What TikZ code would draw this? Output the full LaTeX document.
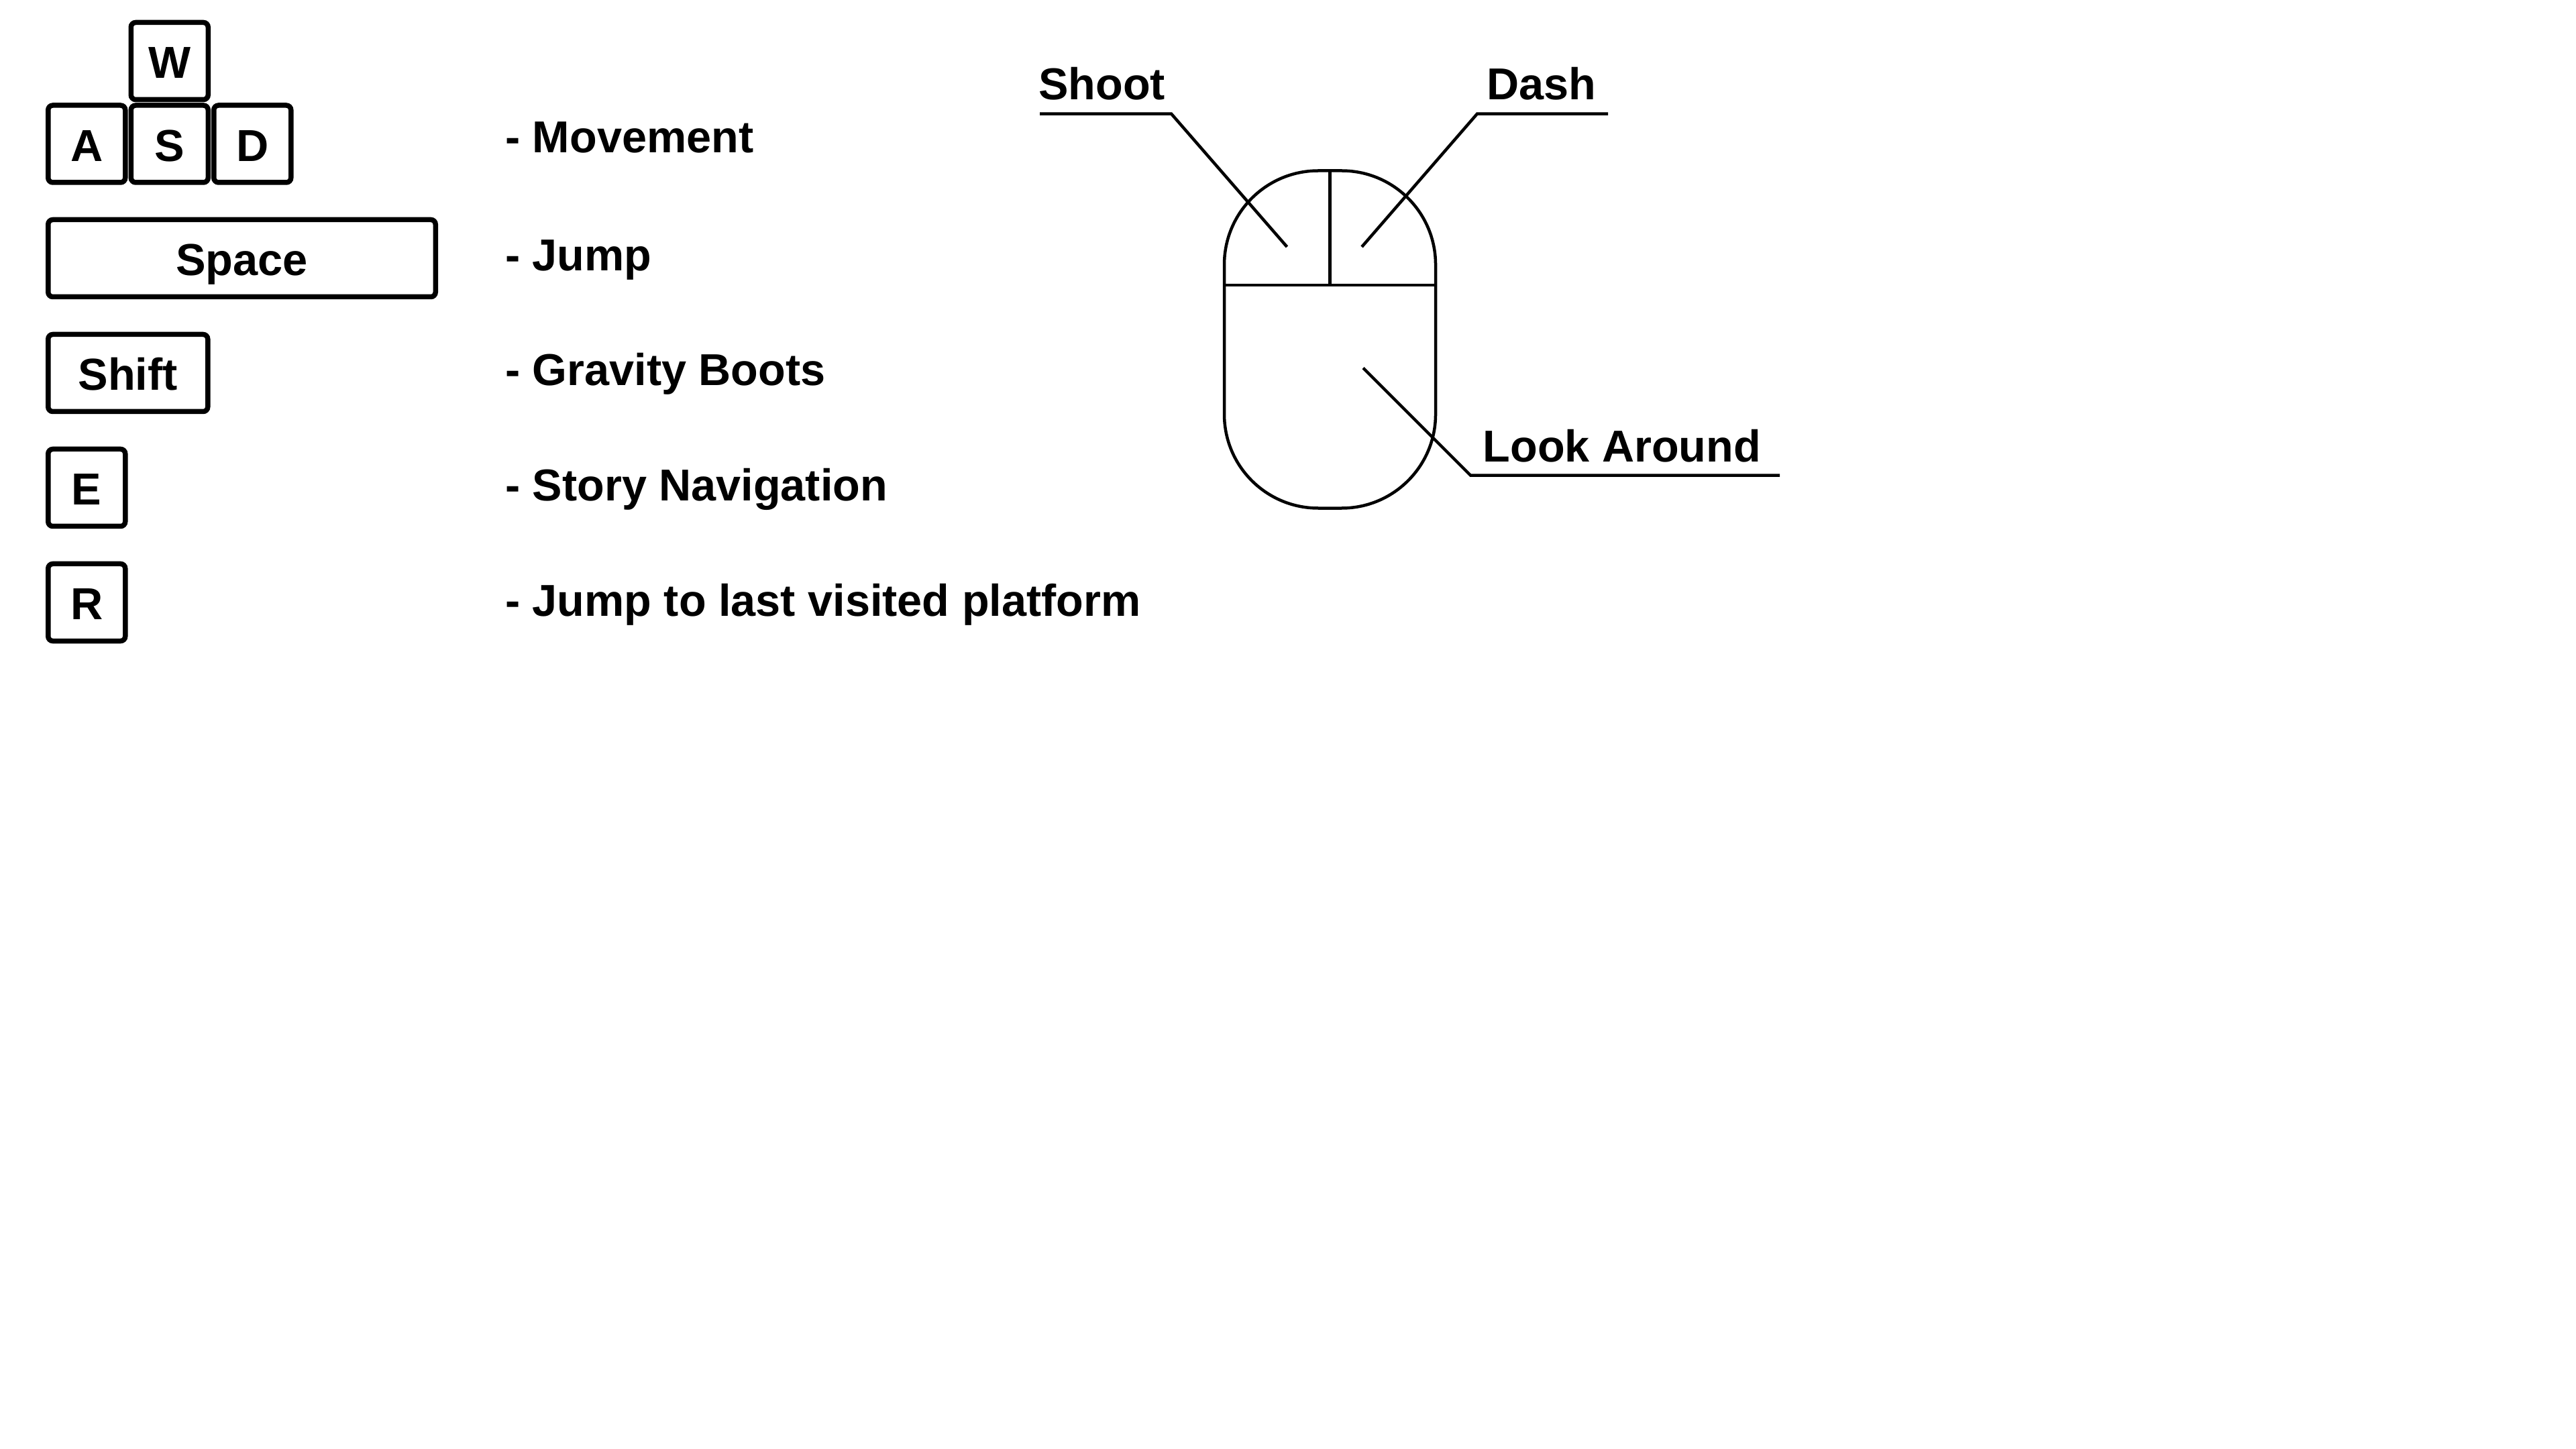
\documentclass[tikz,border=0pt]{standalone}
\usepackage{fontspec}
\setmainfont{Liberation Sans}
\usetikzlibrary{positioning}

\begin{document}
\begin{tikzpicture}[
		keycap/.style={
		  draw,
		  line width=0.075cm,
		  rounded corners=0.07cm,
		  minimum width=1.15cm,
		  minimum height=1.15cm,
		  inner sep=0pt,
		  outer sep=0pt,
		  text height=0.517cm,
		  text depth=0pt,
		  font=\fontsize{19}{22}\selectfont\bfseries
		},
		action/.style={
		  anchor=base west,
		  inner sep=0pt,
		  font=\fontsize{18.95}{22}\selectfont\bfseries
		},
		thin line/.style={
		  line width=0.045cm
		},
		node distance=0.085cm
		]
		\useasboundingbox (0,0) rectangle (38.4,-21.6);

		\node[keycap] at (1.2925,-2.145)
		  (akey) {A};
		\node[keycap,right=of akey]
		  (skey) {S};
		\node[keycap,right=of skey]
		  (dkey) {D};
		\node[keycap,above=of skey]
		  (wkey) {W};
		\node[keycap,minimum width=5.775cm,below=0.555cm of akey.south west,anchor=north west]
		  (spacekey) {Space};
		\node[keycap,minimum width=2.38cm,below=0.56cm of spacekey.south west,anchor=north west]
		  (shiftkey) {Shift};
		\node[keycap,below=0.56cm of shiftkey.south west,anchor=north west]
		  (ekey) {E};
		\node[keycap,below=0.56cm of ekey.south west,anchor=north west]
		  (rkey) {R};

		\node[action] at (7.525,-2.28) (movement) {- Movement};
		\node[action] at (7.525,-4.04) (jump) {- Jump};
		\node[action] at (7.525,-5.75) (boots) {- Gravity Boots};
		\node[action] at (7.525,-7.46) (story) {- Story Navigation};
		\node[action] at (7.525,-9.18) (platform) {- Jump to last visited platform};

		\node[draw,thin line,rounded corners=1.4cm,minimum width=3.15cm,minimum height=5.03cm,inner sep=0pt,outer sep=0pt] at (19.825,-5.06)
		  (mouse) {};
		\coordinate (split) at (19.825,-4.25);
		\draw[thin line] (mouse.west |- split) -- (mouse.east |- split);
		\draw[thin line] (mouse.north) -- (split);

		\node[action] at (15.475,-1.487) (shoot) {Shoot};
		\node[action] at (22.155,-1.487) (dash) {Dash};
		\node[action] at (22.10,-6.88) (look) {Look Around};

		\coordinate (shootstart) at (15.50,-1.696);
		\coordinate (shootbend) at (17.46,-1.696);
		\coordinate (shoottip) at (19.185,-3.68);
		\coordinate (dashstart) at (23.97,-1.696);
		\coordinate (dashbend) at (22.02,-1.696);
		\coordinate (dashtip) at (20.30,-3.68);
		\coordinate (lookstart) at (26.53,-7.085);
		\coordinate (lookbend) at (21.92,-7.085);
		\coordinate (looktip) at (20.32,-5.485);

		\draw[thin line] (shootstart) -- (shootbend) -- (shoottip);
		\draw[thin line] (dashstart) -- (dashbend) -- (dashtip);
		\draw[thin line] (lookstart) -- (lookbend) -- (looktip);
	\end{tikzpicture}
\end{document}
